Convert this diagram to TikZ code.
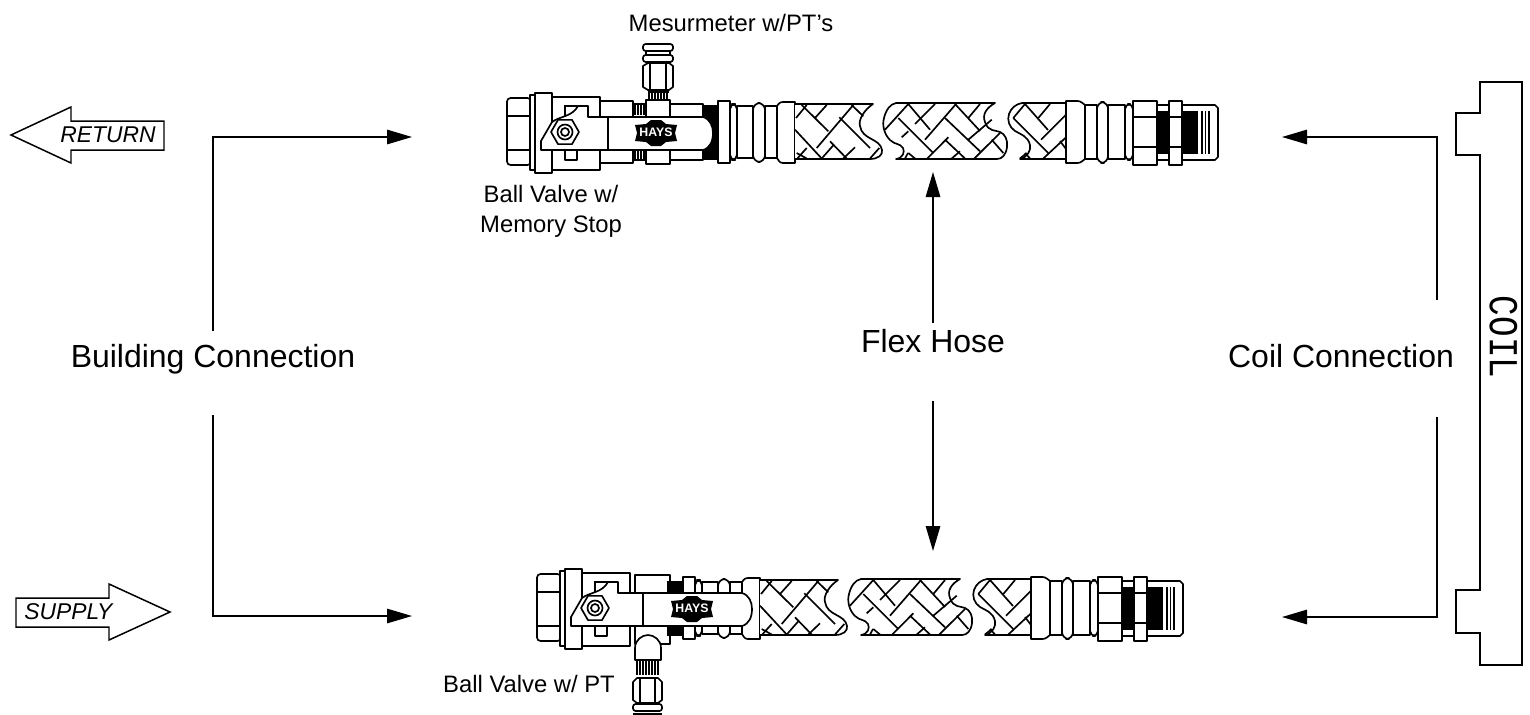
\documentclass[tikz,border=0pt]{standalone}
\usepackage{fontspec}
\setmainfont{Liberation Sans}
\newfontfamily\coilfont{Liberation Mono}
\usetikzlibrary{arrows.meta}

\tikzset{
    part/.style={line width=0.95pt, fill=white, line join=round},
    weave/.style={line width=0.95pt},
    thread/.style={line width=0.6pt},
    flow/.style={line width=0.75pt, -{Triangle[length=0.5cm,width=0.29cm]}},
    biglabel/.style={font=\fontsize{18.2}{22}\selectfont, inner sep=0pt},
    smalllabel/.style={font=\fontsize{13.55}{17}\selectfont, inner sep=0pt, align=center},
    taglabel/.style={font=\fontsize{13}{14}\selectfont\itshape, inner sep=0pt},
}

\newcommand{\valvecore}{
    \draw [part,rounded corners=2] (507,98) rectangle (531,165);
    \draw [line width=0.95pt] (507,116) -- (531,116);
    \draw [line width=0.95pt] (507,150) -- (531,150);
    \draw [part] (530,95) rectangle (536,170);
    \draw [part] (535,93) rectangle (552,173);
    \draw [part] (552,97) rectangle (600,170);
    \draw [part] (565,150) rectangle (577,160);
}

\newcommand{\valvelever}[4]{
    \draw [part] (#1,150) -- (541,150) -- (541,141) -- (552,122)
        .. controls (560,116) and (572,117) .. (578,106) -- (588,106) -- (588,117) -- (#2,117)
        .. controls (#2+7,119) and (#2+10,126) .. (#2+10,133)
        .. controls (#2+10,141) and (#2+7,148) .. (#2,150) -- cycle;
    \draw [line width=0.95pt] (565,116) -- (565,106) -- (578,106);
    \draw [part] (#1,117) -- (#1,150);
    \draw [part,shift={(565,132)}] (0:14) -- (60:14) -- (120:14) -- (180:14) -- (240:14) -- (300:14) -- cycle;
    \draw [line width=0.95pt] (565,132) circle (7.5);
    \draw [line width=0.95pt] (565,132) circle (4);
    \fill [black,shift={(#3,133)}] (-21,-8) -- (-10,-9) -- (-5,-13) -- (5,-13) -- (10,-9) -- (21,-8) -- (19,0) -- (21,8) -- (10,9) -- (5,13) -- (-5,13) -- (-10,9) -- (-21,8) -- (-19,0) -- cycle;
    \node [text=white,inner sep=0pt,font=\fontsize{7}{7}\bfseries\selectfont] (#4) at (#3,132) {HAYS};
}

\newcommand{\hoseline}{
    % threads next to the valve
    \foreach \x in {703,705,...,718}
        \draw [thread] (\x,105) -- (\x,160);
    \draw [part] (718,101) rectangle (730,163);
    \draw [part,rounded corners=3] (730,104) rectangle (737,160);
    \draw [part] (737,106) rectangle (753,158);
    \draw [part,rounded corners=4] (753,103) rectangle (765,162);
    \draw [part] (765,106) rectangle (777,158);
    \draw [part] (777,106) .. controls (780,102) .. (786,102) -- (795,102) -- (795,163) -- (786,163) .. controls (780,163) .. (777,158) -- cycle;
    % first piece of braid
    \draw [part] (795,104) -- (873,104) .. controls (864,110) and (858,120) .. (860,126) .. controls (862,140) and (880,138) .. (882,150) .. controls (883,155) and (878,159) .. (870,159) -- (795,159);
    \foreach \xa/\ya/\xb/\yb in {801.7/105/828.3/131.3, 795/129.7/821.7/158.5, 839.3/117.3/870/148, 851.7/105/863.3/116.3, 796.7/153/806.7/158.5, 830/141.3/846.7/158.5, 796/118/806.7/105, 815/118/826.7/105, 816.7/148/853.3/105, 797.3/158.5/806.7/148, 821.7/158.5/833.3/145.3, 843.3/158.5/855/147.3, 870/158.5/879.3/148}
        \draw [weave] (\xa,\ya) -- (\xb,\yb);
    % middle piece of braid
    \draw [part] (896,103) -- (995,103) .. controls (986,108) and (982,115) .. (985,122) .. controls (988,132) and (996,130) .. (1000,132) .. controls (1005,134) and (1008,140) .. (1007,147) .. controls (1006,155) and (1002,159) .. (997,159) -- (896,159) .. controls (903,158) and (905,152) .. (903,148) .. controls (900,143) and (895,145) .. (890,140) .. controls (884,134) and (882,125) .. (884,118) .. controls (886,110) and (890,104) .. (896,103) -- cycle;
    \foreach \xa/\ya/\xb/\yb in {885/129.7/908.3/104, 915/124/935/104, 901.7/137.3/908.3/131.3, 925/139.7/956/104, 927.3/158.5/948.3/137.3, 968.3/118/980/104, 968.3/139.7/991.7/119.7, 974.3/158.5/1000/133, 951.7/158.5/960/151.3, 905/158.5/908/153, 898.3/118/933.3/153, 908.3/104/930/129.7, 955/104/980/131, 945/118/980/151.3, 945/139.7/965/158.5, 991.7/139.7/1003.3/153, 908.3/153/915/158.5}
        \draw [weave] (\xa,\ya) -- (\xb,\yb);
    % last piece of braid
    \draw [part] (1066,103) -- (1022,103) .. controls (1016,104) and (1011,108) .. (1009,114) .. controls (1007,120) and (1009,127) .. (1015,131) .. controls (1020,134) and (1028,136) .. (1030,145) .. controls (1031,150) and (1028,157) .. (1020,159) -- (1066,159);
    \foreach \xa/\ya/\xb/\yb in {1013.3/118/1048.3/153, 1025/104/1048/130, 1060/141/1066/149, 1025/153/1030/158.5, 1013.3/118/1025/104, 1038.3/118/1050/104, 1041/139.7/1066/114.7, 1043.3/158.5/1066/137.3, 1020/158.5/1026.7/153}
        \draw [weave] (\xa,\ya) -- (\xb,\yb);
    % fitting at the coil end
    \draw [part] (1066,101) -- (1075,101) .. controls (1080,101) .. (1085,105) -- (1085,159) .. controls (1080,163) .. (1075,163) -- (1066,163) -- cycle;
    \draw [part] (1085,105) rectangle (1097,159);
    \draw [part,rounded corners=4] (1097,102) rectangle (1108,163);
    \draw [part] (1108,105) rectangle (1125,159);
    \draw [part,rounded corners=3] (1125,104) rectangle (1133,160);
    \draw [part] (1182,105) -- (1215,105) -- (1218,108) -- (1218,157) -- (1215,160) -- (1182,160) -- cycle;
    \draw [part] (1157,105) rectangle (1169,160);
    \foreach \x in {1159,1161,...,1168}
        \draw [thread] (\x,111) -- (\x,154);
    \foreach \x in {1183,1185,...,1197}
        \draw [thread] (\x,111) -- (\x,154);
    \foreach \x in {1202,1205.5,1209}
        \draw [thread] (\x,111) -- (\x,154);
    \draw [part] (1133,101) rectangle (1157,165);
    \draw [line width=0.95pt] (1133,117) -- (1157,117);
    \draw [line width=0.95pt] (1133,147) -- (1157,147);
    \draw [part] (1169,101) rectangle (1182,165);
    \draw [line width=0.95pt] (1169,117) -- (1182,117);
    \draw [line width=0.95pt] (1169,147) -- (1182,147);
}

\begin{document}
\begin{tikzpicture}[x=0.02cm,y=-0.02cm]
\useasboundingbox (0,0) rectangle (1530,714);

% return line
\valvecore
\draw [part] (600,101) rectangle (633,163);
\foreach \x in {635,638,...,644} {
    \draw [thread] (\x,104) -- (\x,115);
    \draw [thread] (\x,150) -- (\x,160);
}
\draw [line width=0.95pt] (633,104) -- (645,104);
\draw [line width=0.95pt] (633,160) -- (645,160);
\draw [part] (670,104) rectangle (703,160);
\draw [part] (646,100) rectangle (670,164);
\foreach \x in {649,652,...,667}
    \draw [thread] (\x,92) -- (\x,100);
\draw [line width=0.95pt] (648,92) -- (669,92);
\draw [part] (643,66) -- (648,63) -- (669,63) -- (673,66) -- (673,87) -- (669,90) -- (648,90) -- (643,87) -- cycle;
\draw [line width=0.95pt] (650,63) -- (650,90);
\draw [line width=0.95pt] (666,63) -- (666,90);
\draw [part] (646,50) rectangle (670,56);
\draw [part,rounded corners=1.5] (643,55) rectangle (673,62);
\draw [part,rounded corners=1.5] (643,44) rectangle (673,51);
\hoseline
\valvelever{608}{703}{656}{logoreturn}

% supply line
\begin{scope}[shift={(30,476)}]
\valvecore
\end{scope}
\draw [part] (635,575) rectangle (670,644);
\foreach \x in {637,640,...,658}
    \draw [thread] (\x,661) -- (\x,675);
\draw [part] (635,660) -- (635,648) .. controls (635,640) and (642,635) .. (648,635) .. controls (654,635) and (661,640) .. (661,648) -- (661,660) -- cycle;
\draw [part] (633,682) -- (637,678) -- (658,678) -- (662,682) -- (662,700) -- (658,703) -- (637,703) -- (633,700) -- cycle;
\draw [line width=0.95pt] (640,678) -- (640,703);
\draw [line width=0.95pt] (655,678) -- (655,703);
\draw [part,rounded corners=1.5] (633,704) rectangle (662,711);
\draw [line width=0.95pt] (633,714) -- (662,714);
\begin{scope}[shift={(-35,476)}]
\hoseline
\end{scope}
\begin{scope}[shift={(30,476)}]
\valvelever{613}{712}{662}{logosupply}
\end{scope}

% coil
\draw [line width=0.85pt] (1480,82) -- (1522,82) -- (1522,665) -- (1480,665) -- (1480,633) -- (1456,633) -- (1456,590) -- (1480,590) -- (1480,155) -- (1456,155) -- (1456,113) -- (1480,113) -- cycle;
\node [rotate=-90,inner sep=0pt,font=\fontsize{19.5}{20}\coilfont\selectfont] (coil) at (1503.5,337) {\scalebox{1}[1.2]{COIL}};

% flow tags
\draw [line width=0.85pt] (11,135) -- (71,107) -- (71,121) -- (164,121) -- (164,150) -- (71,150) -- (71,163) -- cycle;
\node [taglabel,anchor=west] (return) at (60,135) {RETURN};
\draw [line width=0.85pt] (16,598) -- (109,598) -- (109,584) -- (170,612) -- (109,640) -- (109,627) -- (16,627) -- cycle;
\node [taglabel,anchor=west] (supply) at (24,612) {SUPPLY};

% labels
\node [smalllabel] (meter) at (731,23) {Mesurmeter w/PT’s};
\node [smalllabel] (stopvalve) at (551,211) {Ball Valve w/\\Memory Stop};
\node [smalllabel] (ptvalve) at (529,684) {Ball Valve w/ PT};
\node [biglabel] (building) at (213,359.4) {Building Connection};
\node [biglabel] (flex) at (933,341) {Flex Hose};
\node [biglabel] (coilconn) at (1341,356) {Coil Connection};

% callouts
\coordinate (buildtop) at (213,331);
\coordinate (buildbot) at (213,415);
\coordinate (buildret) at (412,137);
\coordinate (buildsup) at (412,616);
\coordinate (flextop) at (933,323);
\coordinate (flexbot) at (933,401);
\coordinate (flexret) at (933,172);
\coordinate (flexsup) at (933,551);
\coordinate (coiltop) at (1437,300);
\coordinate (coilbot) at (1437,417);
\coordinate (coilret) at (1282,137);
\coordinate (coilsup) at (1282,617);

\draw [flow] (buildtop) |- (buildret);
\draw [flow] (buildbot) |- (buildsup);
\draw [flow] (flextop) -- (flexret);
\draw [flow] (flexbot) -- (flexsup);
\draw [flow] (coiltop) |- (coilret);
\draw [flow] (coilbot) |- (coilsup);

\end{tikzpicture}
\end{document}
